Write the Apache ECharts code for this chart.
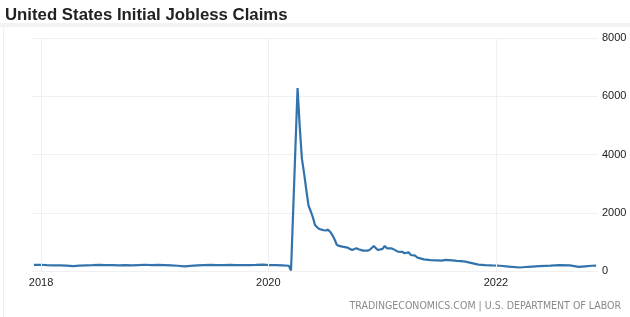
<!DOCTYPE html>
<html>
<head>
<meta charset="utf-8">
<script src="https://cdn.jsdelivr.net/npm/echarts@6/dist/echarts.min.js"></script>
<style>
html,body{margin:0;padding:0;background:#fff;}
#chart{width:630px;height:317px;}
</style>
</head>
<body>
<div id="chart"></div>
<script>
// Week-ending dates (irregular spacing: sparse in calm periods, weekly around the spike)
const weekDates = [
  '2017-12-09','2017-12-30','2018-01-20','2018-02-10','2018-03-03','2018-03-24','2018-04-14','2018-05-05',
  '2018-05-26','2018-06-16','2018-07-07','2018-07-28','2018-08-18','2018-09-08','2018-09-29','2018-10-20',
  '2018-11-10','2018-12-01','2018-12-22','2019-01-12','2019-02-02','2019-02-23','2019-03-16','2019-04-06',
  '2019-04-27','2019-05-18','2019-06-08','2019-06-29','2019-07-20','2019-08-10','2019-08-31','2019-09-21',
  '2019-10-12','2019-11-02','2019-11-23','2019-12-14','2020-01-04','2020-01-25','2020-02-15','2020-03-07',
  '2020-03-14','2020-03-21','2020-03-28','2020-04-04','2020-04-11','2020-04-18','2020-04-25','2020-05-02',
  '2020-05-09','2020-05-16','2020-05-23','2020-05-30','2020-06-06','2020-06-13','2020-06-20','2020-06-27',
  '2020-07-04','2020-07-11','2020-07-18','2020-07-25','2020-08-01','2020-08-08','2020-08-15','2020-08-29',
  '2020-09-12','2020-09-26','2020-10-10','2020-10-17','2020-10-31','2020-11-14','2020-11-21','2020-12-05',
  '2020-12-12','2020-12-19','2021-01-02','2021-01-09','2021-01-16','2021-01-30','2021-02-06','2021-02-20',
  '2021-03-06','2021-03-13','2021-03-27','2021-04-03','2021-04-17','2021-04-24','2021-05-15','2021-06-05',
  '2021-06-26','2021-07-10','2021-07-24','2021-08-14','2021-08-28','2021-09-11','2021-09-25','2021-10-16',
  '2021-11-06','2021-11-27','2021-12-18','2022-01-15','2022-02-12','2022-03-19','2022-04-16','2022-05-21',
  '2022-06-25','2022-07-23','2022-08-27','2022-09-24','2022-10-15','2022-11-05','2022-11-19'
];
// Initial claims (thousands)
const claims = [
  210,215,200,195,190,185,170,185,
  195,200,210,205,200,195,200,195,
  205,215,200,210,200,190,180,160,
  175,190,200,210,205,200,210,205,
  200,205,210,220,205,200,195,180,
  20,2100,4200,6280,4950,3850,3350,2790,
  2250,2060,1850,1580,1500,1440,1420,1400,
  1390,1420,1340,1230,1080,900,860,830,
  800,720,780,745,700,700,720,860,
  780,720,760,860,780,780,750,665,
  660,610,640,550,525,460,400,375,
  365,355,380,365,350,340,320,270,
  220,200,190,180,150,120,145,165,
  185,205,195,140,160,180,185
];
const yTicks = [0, 2000, 4000, 6000, 8000];
const gridYears = ['2018-01-01', '2020-01-01', '2022-01-01'];
const titleText = 'United States Initial Jobless Claims';
const sourceText = 'TRADINGECONOMICS.COM | U.S. DEPARTMENT OF LABOR';

const seriesData = weekDates.map((d, i) => [d, claims[i]]);

const chart = echarts.init(document.getElementById('chart'), null, {renderer: 'canvas'});
chart.setOption({
  animation: false,
  backgroundColor: '#ffffff',
  title: {
    text: titleText,
    left: 0, top: 2,
    textStyle: {fontFamily: 'Liberation Sans, Arial, sans-serif', fontSize: 16.8, fontWeight: 'bold', color: '#222222'}
  },
  graphic: [
    {type: 'rect', left: 0, top: 23, shape: {width: 630, height: 4}, style: {fill: '#f3f3f3'}, silent: true},
    {type: 'line', shape: {x1: 3.5, y1: 27, x2: 3.5, y2: 317}, style: {stroke: '#eeeeee', lineWidth: 1}, silent: true},
    {type: 'text', right: 9, top: 301,
      style: {text: sourceText, fill: '#8a8a8a', fontSize: 10.5, fontFamily: 'Liberation Sans Narrow, DejaVu Sans Condensed, Arial, sans-serif'}}
  ],
  grid: {left: 32, right: 32, top: 38, bottom: 46, containLabel: false},
  xAxis: {
    type: 'time',
    min: '2017-12-03',
    max: '2022-11-25',
    axisLine: {show: false},
    axisTick: {show: false},
    splitLine: {show: false},
    axisLabel: {
      margin: 6,
      color: '#222222',
      fontSize: 11,
      fontFamily: 'Liberation Sans, Arial, sans-serif',
      formatter: function (val) {
        const d = new Date(val);
        const y = d.getFullYear();
        if (d.getMonth() === 0 && d.getDate() === 1 && y % 2 === 0) return String(y);
        return '';
      }
    }
  },
  yAxis: {
    type: 'value',
    position: 'right',
    min: 0, max: 8000, interval: 2000,
    axisLine: {show: false},
    axisTick: {show: false},
    splitLine: {lineStyle: {color: '#f0f0f0', width: 1}},
    axisLabel: {
      margin: 4, color: '#222222', fontSize: 11, fontFamily: 'Liberation Sans, Arial, sans-serif',
      formatter: function (v) { return String(v); }
    }
  },
  series: [{
    type: 'line',
    data: seriesData,
    showSymbol: false,
    symbol: 'none',
    clip: false,
    lineStyle: {color: '#3373ac', width: 2.2},
    markLine: {
      silent: true,
      symbol: 'none',
      label: {show: false},
      lineStyle: {color: '#f0f0f0', width: 1, type: 'solid'},
      data: gridYears.map(d => ({xAxis: d}))
    },
    z: 3
  }]
});
</script>
</body>
</html>
